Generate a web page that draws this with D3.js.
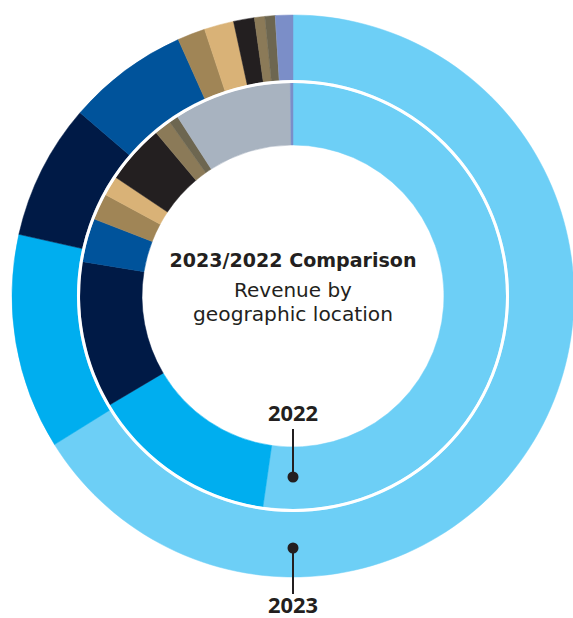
<!DOCTYPE html>
<html>
<head>
<meta charset="utf-8">
<script src="https://cdn.jsdelivr.net/npm/d3@7"></script>
<style>
  html, body { margin: 0; padding: 0; background: #ffffff; }
  svg { display: block; }
</style>
</head>
<body>
<svg id="chart" width="573" height="618"></svg>
<script>
// Categories (geographic regions, in drawing order clockwise from 12 o'clock)
const categories = ["Region 1", "Region 2", "Region 3", "Region 4", "Region 5", "Region 6",
                    "Region 7", "Region 8", "Region 9", "Region 10", "Region 11"];
const colors = ["#6dcff6", "#00aeef", "#001a46", "#00539b", "#a08556", "#d9b277",
                "#231f20", "#8b7a58", "#6d6650", "#a8b3c0", "#7b8ec8"];
// Revenue share (%) by year
const values2023 = [66.2, 12.4, 7.8, 7.0, 1.6, 1.7, 1.2, 0.6, 0.6, 0.0, 1.0];
const values2022 = [52.2, 14.2, 11.1, 3.3, 2.0, 1.5, 4.5, 1.3, 0.7, 8.9, 0.2];
const yearLabels = ["2022", "2023"];
const titleLines = ["2023/2022 Comparison", "Revenue by", "geographic location"];

const svg = d3.select("#chart");
const cx = 293, cy = 296;
const g = svg.append("g").attr("transform", `translate(${cx},${cy})`);

const pie = d3.pie().sort(null).value(d => d.v);

function ring(values, r0, r1) {
  const data = categories.map((c, i) => ({ c, v: values[i], color: colors[i] }));
  const arc = d3.arc().innerRadius(r0).outerRadius(r1);
  g.append("g").selectAll("path")
    .data(pie(data))
    .join("path")
    .attr("d", arc)
    .attr("fill", d => d.data.color)
    .attr("stroke", d => d.data.color)
    .attr("stroke-width", 0.5);
}

ring(values2023, 216, 281);
ring(values2022, 151, 213);

// white separator between rings
g.append("circle").attr("r", 214.5).attr("fill", "none")
  .attr("stroke", "#ffffff").attr("stroke-width", 3);

// center title
const font = "'DejaVu Sans', 'Open Sans', sans-serif";
const yearFont = "'Open Sans', 'DejaVu Sans', sans-serif";
function fitText(sel, target) {
  const w = sel.node().getComputedTextLength();
  const fs = parseFloat(sel.attr("font-size"));
  sel.attr("font-size", fs * target / w);
}
const t1 = g.append("text").attr("x", 0).attr("y", 267 - cy)
  .attr("text-anchor", "middle").attr("font-family", font).attr("font-weight", 700)
  .attr("font-size", 17).attr("fill", "#231f20").text(titleLines[0]);
fitText(t1, 247);
const t2 = g.append("text").attr("x", 0).attr("y", 297 - cy)
  .attr("text-anchor", "middle").attr("font-family", font).attr("font-weight", 400)
  .attr("font-size", 18).attr("fill", "#231f20").text(titleLines[1]);
fitText(t2, 118);
const t3 = g.append("text").attr("x", 0).attr("y", 321 - cy)
  .attr("text-anchor", "middle").attr("font-family", font).attr("font-weight", 400)
  .attr("font-size", 18).attr("fill", "#231f20").text(titleLines[2]);
fitText(t3, 200);

// year callouts
function callout(label, textY, lineY1, lineY2, dotY) {
  g.append("line").attr("x1", 0).attr("x2", 0)
    .attr("y1", lineY1 - cy).attr("y2", lineY2 - cy)
    .attr("stroke", "#231f20").attr("stroke-width", 2);
  g.append("circle").attr("cx", 0).attr("cy", dotY - cy).attr("r", 5.5).attr("fill", "#231f20");
  const t = g.append("text").attr("x", 0).attr("y", textY - cy)
    .attr("text-anchor", "middle").attr("font-family", yearFont).attr("font-weight", 700)
    .attr("font-size", 18).attr("fill", "#231f20").text(label);
  fitText(t, 50);
}
callout(yearLabels[0], 420.5, 429, 477, 477);
callout(yearLabels[1], 613, 548, 594, 548);
</script>
</body>
</html>
